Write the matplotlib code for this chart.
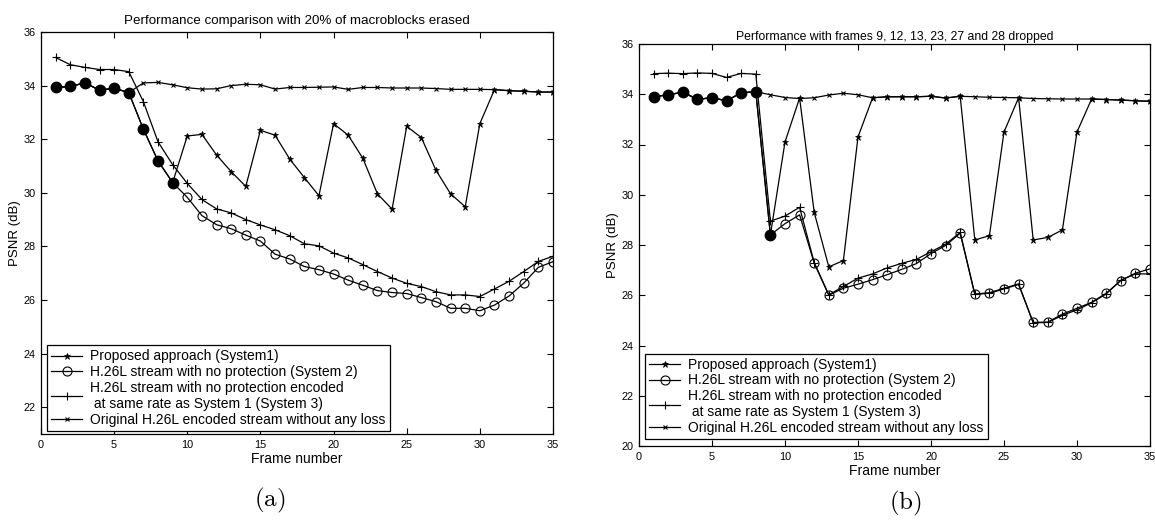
import numpy as np
import matplotlib
matplotlib.use("Agg")
import matplotlib.pyplot as plt

plt.rcParams['font.family'] = ['Liberation Sans', 'DejaVu Sans']
plt.rcParams['mathtext.fontset'] = 'cm'

frames = list(range(1, 36))

# ---------- (a) 20% of macroblocks erased ----------
prop_a = [33.93, 33.97, 34.10, 33.83, 33.90, 33.74, 32.37, 31.19, 30.38, 32.12,
          32.18, 31.41, 30.79, 30.24, 32.33, 32.15, 31.26, 30.57, 29.89, 32.58,
          32.15, 31.29, 29.96, 29.39, 32.48, 32.06, 30.84, 29.96, 29.48, 32.58,
          33.85, 33.81, 33.79, 33.76, 33.76]
sys2_a = [33.93, 33.97, 34.10, 33.83, 33.90, 33.74, 32.37, 31.19, 30.38, 29.83,
          29.15, 28.81, 28.66, 28.42, 28.20, 27.71, 27.53, 27.25, 27.13, 26.97,
          26.74, 26.55, 26.35, 26.28, 26.24, 26.09, 25.94, 25.69, 25.69, 25.60,
          25.81, 26.15, 26.63, 27.22, 27.43]
sys3_a = [35.05, 34.78, 34.68, 34.60, 34.60, 34.52, 33.40, 31.90, 31.05, 30.35,
          29.75, 29.40, 29.25, 29.00, 28.80, 28.62, 28.40, 28.10, 28.02, 27.75,
          27.57, 27.32, 27.06, 26.82, 26.62, 26.50, 26.31, 26.19, 26.19, 26.13,
          26.41, 26.70, 27.06, 27.44, 27.63]
orig_a = [33.93, 33.97, 34.10, 33.83, 33.90, 33.74, 34.10, 34.12, 34.03, 33.92,
          33.87, 33.88, 34.00, 34.05, 34.03, 33.87, 33.93, 33.93, 33.94, 33.95,
          33.86, 33.93, 33.93, 33.91, 33.91, 33.91, 33.89, 33.86, 33.86, 33.86,
          33.85, 33.81, 33.79, 33.76, 33.76]

# ---------- (b) frames 9, 12, 13, 23, 27, 28 dropped ----------
prop_b = [33.90, 33.98, 34.08, 33.80, 33.86, 33.74, 34.06, 34.10, 28.40, 32.10,
          33.85, 29.30, 27.13, 27.38, 32.30, 33.86, 33.90, 33.90, 33.90, 33.92,
          33.85, 33.92, 28.20, 28.37, 32.50, 33.86, 28.20, 28.30, 28.60, 32.50,
          33.81, 33.79, 33.77, 33.74, 33.72]
sys2_b = [33.90, 33.98, 34.08, 33.80, 33.86, 33.74, 34.06, 34.10, 28.40, 28.85,
          29.20, 27.28, 26.00, 26.28, 26.44, 26.62, 26.82, 27.03, 27.26, 27.66,
          27.98, 28.47, 26.03, 26.08, 26.25, 26.43, 24.92, 24.93, 25.25, 25.48,
          25.72, 26.08, 26.58, 26.88, 27.05]
sys3_b = [34.82, 34.84, 34.82, 34.85, 34.83, 34.67, 34.83, 34.80, 28.95, 29.15,
          29.50, 27.30, 26.02, 26.35, 26.68, 26.85, 27.09, 27.27, 27.43, 27.73,
          28.03, 28.50, 26.05, 26.10, 26.28, 26.45, 24.90, 24.92, 25.20, 25.42,
          25.70, 26.05, 26.60, 26.85, 26.85]
orig_b = [33.90, 33.98, 34.08, 33.80, 33.86, 33.74, 34.06, 34.10, 33.98, 33.87,
          33.83, 33.86, 33.97, 34.04, 33.98, 33.86, 33.90, 33.90, 33.90, 33.92,
          33.85, 33.92, 33.90, 33.88, 33.87, 33.86, 33.83, 33.82, 33.81, 33.81,
          33.81, 33.79, 33.77, 33.74, 33.72]

labels = ["Proposed approach (System1)",
          "H.26L stream with no protection (System 2)",
          "H.26L stream with no protection encoded\n at same rate as System 1 (System 3)",
          "Original H.26L encoded stream without any loss"]

titles = ["Performance comparison with 20% of macroblocks erased",
          "Performance with frames 9, 12, 13, 23, 27 and 28 dropped"]
xticks = [0, 5, 10, 15, 20, 25, 30, 35]

W, H = 1155, 524
fig = plt.figure(figsize=(W / 100, H / 100), dpi=100)


def box(l, t, r, b):
    return [l / W, 1 - b / H, (r - l) / W, (b - t) / H]


ax_a = fig.add_axes(box(41, 32, 553, 434))
ax_b = fig.add_axes(box(639, 44, 1150, 446))

lw = 0.9
for ax, prop, sys2, sys3, orig, ylim, title, tsize, tpad, leg_anchor in [
        (ax_a, prop_a, sys2_a, sys3_a, orig_a, (21, 36), titles[0], 9.6, 6, (0.012, 0.008)),
        (ax_b, prop_b, sys2_b, sys3_b, orig_b, (20, 36), titles[1], 8.8, 3, (0.012, 0.017))]:
    x = np.array(frames)
    p = np.array(prop)
    s2 = np.array(sys2)
    h4, = ax.plot(x, orig, color='black', lw=lw, marker='x', ms=3.5, mew=0.8, zorder=2)
    h3, = ax.plot(x, sys3, color='black', lw=lw, marker='+', ms=6, mew=0.8, zorder=3)
    h2, = ax.plot(x, sys2, color='black', lw=lw, marker='o', ms=6.5, mfc='none', mew=0.8, zorder=4)
    h1, = ax.plot(x, prop, color='black', lw=lw, marker='*', ms=5, mew=0.5, zorder=5)
    same = np.isclose(p, s2)
    ax.plot(x[same], s2[same], ls='none', marker='o', ms=7.5, color='black', zorder=6)

    ax.set_xlim(0, 35)
    ax.set_ylim(*ylim)
    ax.set_xticks(xticks)
    ax.set_yticks(np.arange(ylim[0] + ylim[0] % 2, 36.1, 2))
    ax.tick_params(direction='in', top=True, right=True, labelsize=7.8, length=4, width=0.8, pad=4)
    for sp in ax.spines.values():
        sp.set_linewidth(0.9)
    ax.set_title(title, fontsize=tsize, pad=tpad)
    ax.set_xlabel("Frame number", fontsize=10, labelpad=2)
    ax.set_ylabel("PSNR (dB)", fontsize=9.5, labelpad=2)
    leg = ax.legend([h1, h2, h3, h4], labels, loc='lower left', bbox_to_anchor=leg_anchor,
                    borderaxespad=0, fontsize=10, fancybox=False, edgecolor='black',
                    framealpha=1, handlelength=2.2, handletextpad=0.6, labelspacing=0.12,
                    borderpad=0.3)
    leg.get_frame().set_linewidth(0.9)

fig.text(270 / W, 1 - 500 / H, r'$\mathrm{(a)}$', ha='center', va='center', fontsize=18)
fig.text(905 / W, 1 - 503 / H, r'$\mathrm{(b)}$', ha='center', va='center', fontsize=18)

fig.savefig("out.png", dpi=100)
